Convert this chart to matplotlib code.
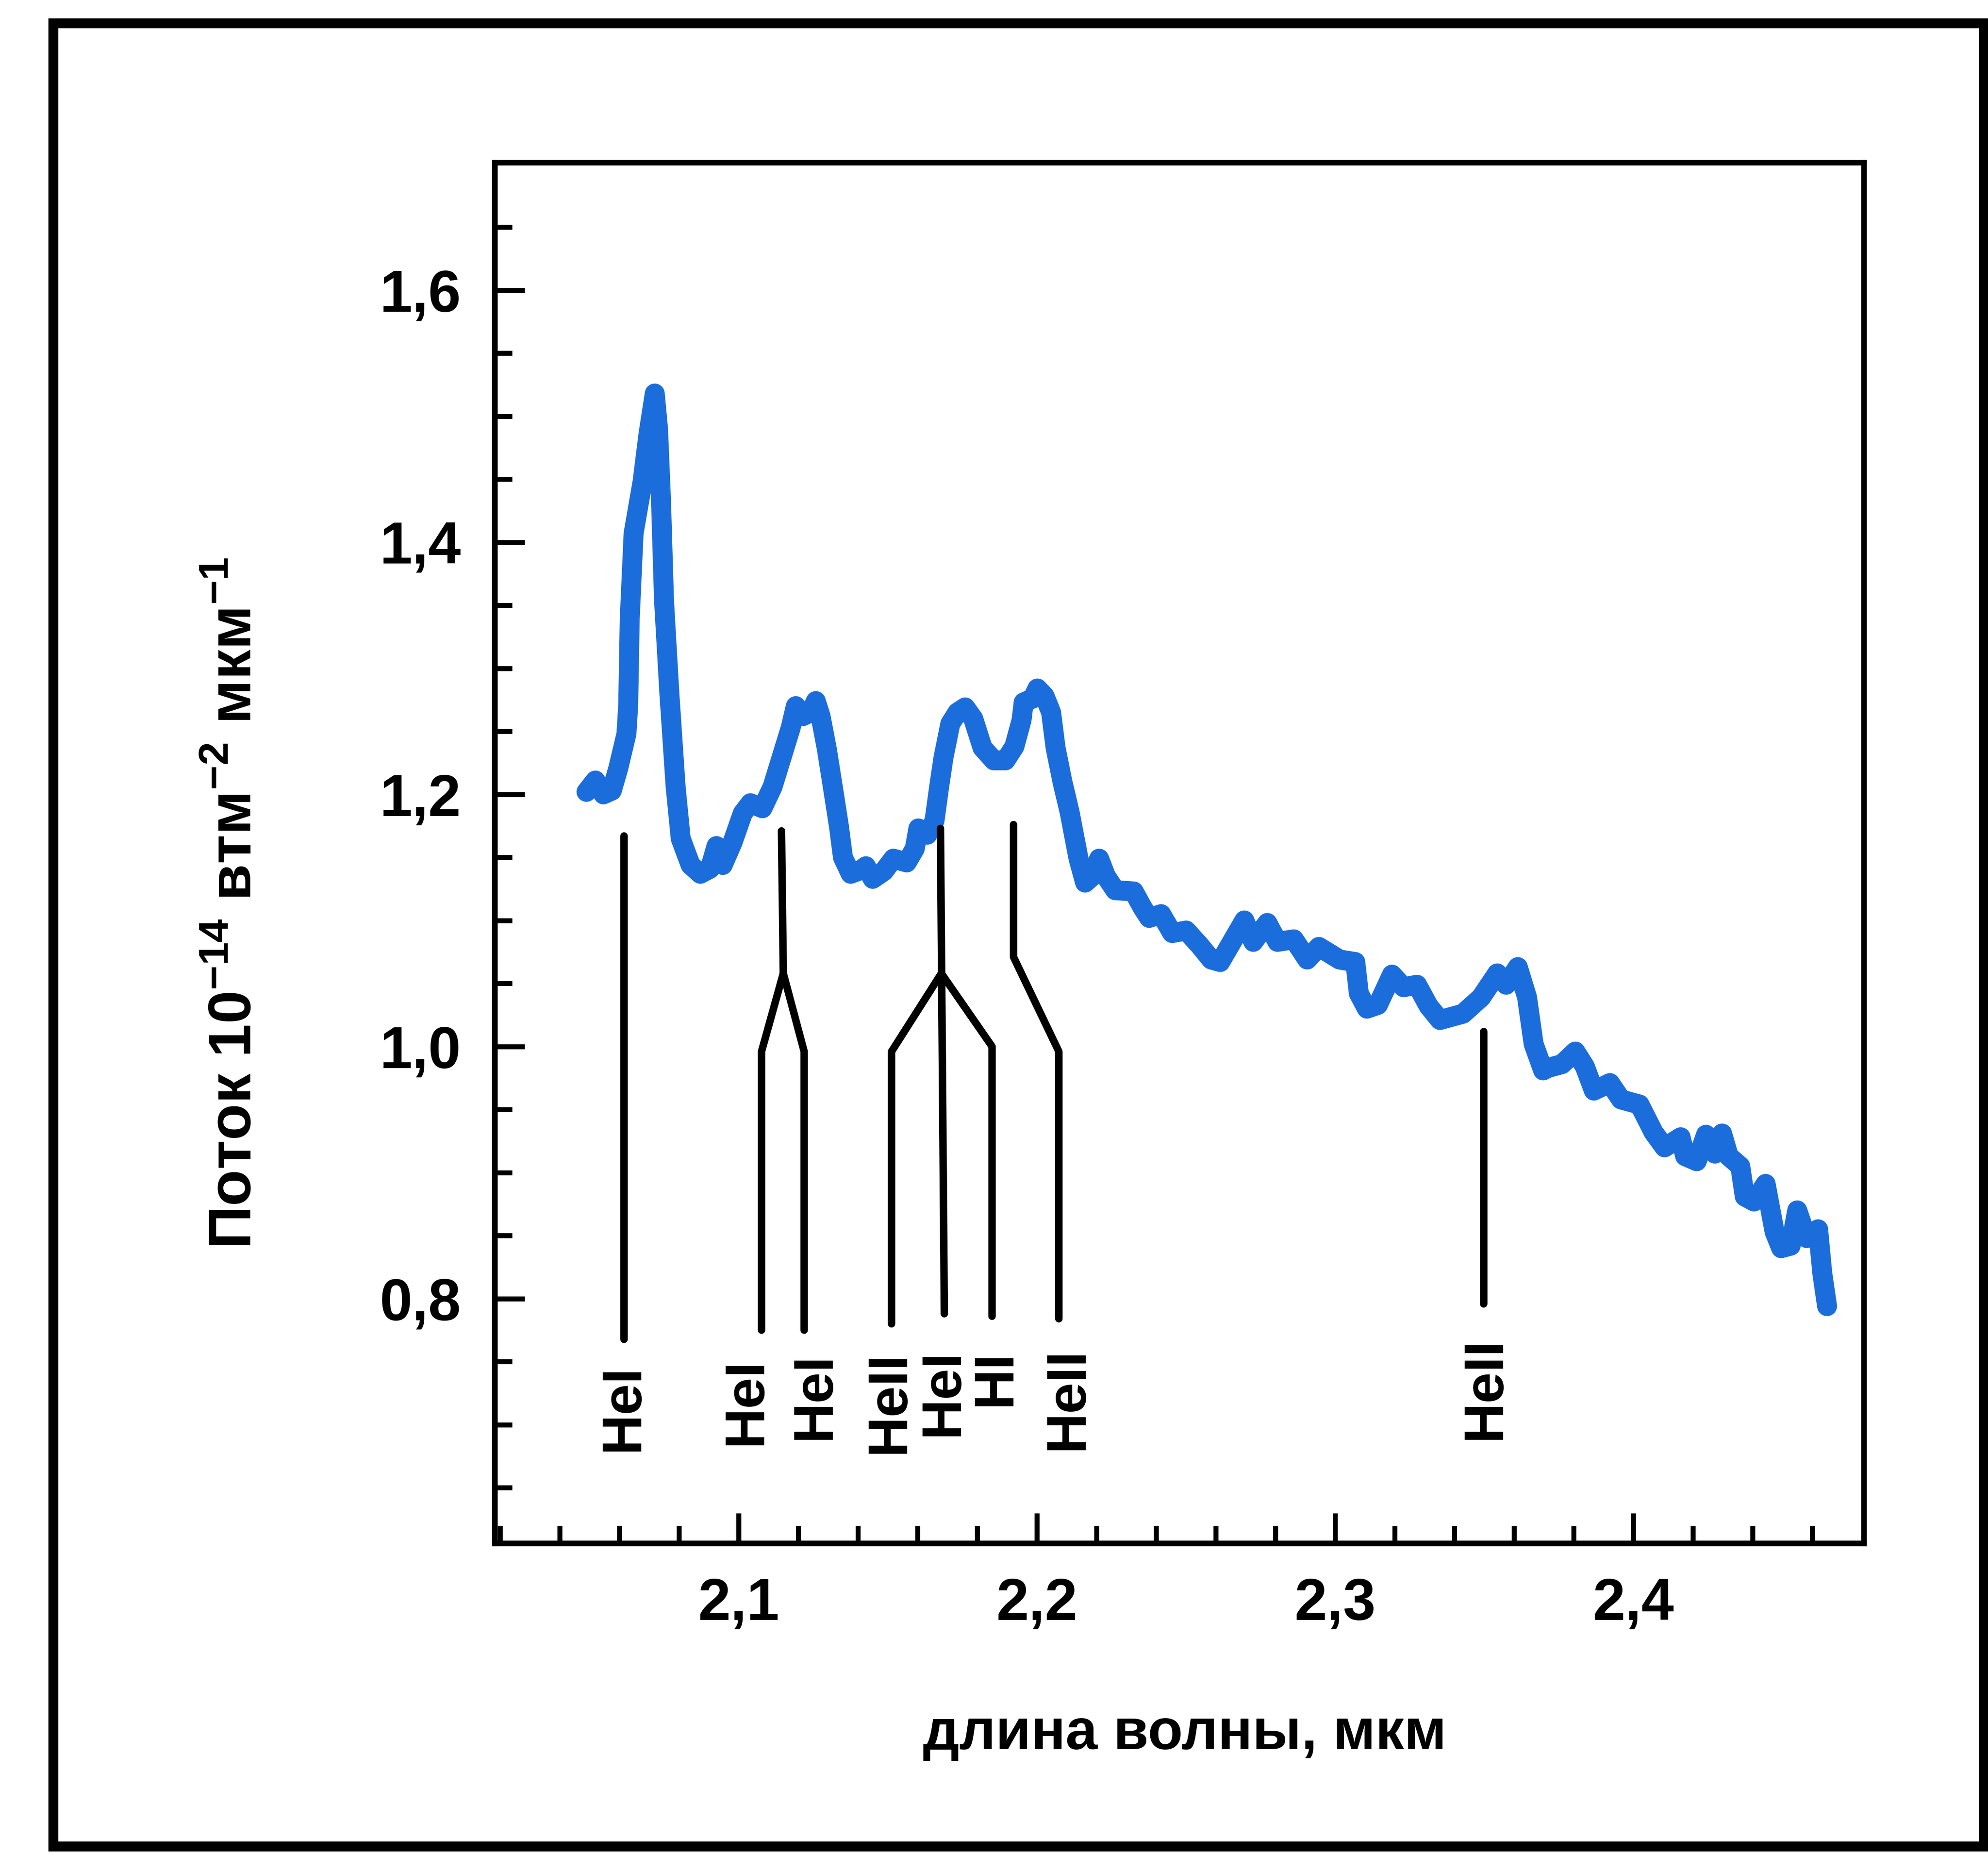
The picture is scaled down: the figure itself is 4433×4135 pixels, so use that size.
import matplotlib
matplotlib.use("Agg")
import matplotlib.pyplot as plt
from matplotlib.ticker import FixedLocator, FuncFormatter
from matplotlib.patches import Rectangle

plt.rcParams['font.family'] = ['Liberation Sans', 'DejaVu Sans']
plt.rcParams['font.weight'] = 'bold'
plt.rcParams['mathtext.fontset'] = 'custom'
plt.rcParams['mathtext.rm'] = 'Liberation Sans:bold'
plt.rcParams['mathtext.default'] = 'rm'

# Спектр
wavelength = [2.049, 2.052, 2.0547, 2.0575, 2.0597, 2.0624, 2.063, 2.0635, 2.0648, 2.0678,
              2.0698, 2.0719, 2.0730, 2.0740, 2.075, 2.0768, 2.0789, 2.0806, 2.0839, 2.0872,
              2.0904, 2.0926, 2.0947, 2.098, 2.1014, 2.104, 2.108, 2.1114, 2.1149, 2.1175,
              2.1192, 2.1215, 2.1242, 2.1259, 2.1275, 2.1296, 2.1316, 2.1337, 2.135, 2.1376,
              2.141, 2.1427, 2.145, 2.1487, 2.1519, 2.1564, 2.1591, 2.1603, 2.1633, 2.1657,
              2.1672, 2.1687, 2.171, 2.1734, 2.176, 2.1787, 2.1818, 2.1856, 2.1895, 2.1925,
              2.1949, 2.1956, 2.1986, 2.2002, 2.2026, 2.2048, 2.2063, 2.2086, 2.211, 2.214,
              2.2162, 2.2186, 2.2209, 2.2232, 2.2263, 2.2325, 2.2355, 2.2377, 2.2417, 2.2454,
              2.2501, 2.2547, 2.2585, 2.2615, 2.2647, 2.2696, 2.2726, 2.2773, 2.2807, 2.2862,
              2.2907, 2.2946, 2.3015, 2.3068, 2.308, 2.3107, 2.3144, 2.3191, 2.323, 2.3275,
              2.3314, 2.3352, 2.3429, 2.349, 2.3544, 2.3574, 2.3613, 2.3644, 2.3666, 2.3698,
              2.3714, 2.3761, 2.3806, 2.3838, 2.3868, 2.3922, 2.3959, 2.4021, 2.4068, 2.4105,
              2.4159, 2.4174, 2.4213, 2.4244, 2.4274, 2.4298, 2.432, 2.4359, 2.4374, 2.4405,
              2.4444, 2.4474, 2.4496, 2.4528, 2.455, 2.4582, 2.462, 2.4634, 2.465]
flux = [1.202, 1.211, 1.200, 1.203, 1.221, 1.248, 1.271, 1.339, 1.407, 1.448,
        1.486, 1.518, 1.490, 1.433, 1.354, 1.280, 1.206, 1.165, 1.144, 1.137,
        1.141, 1.159, 1.144, 1.162, 1.185, 1.193, 1.189, 1.206, 1.233, 1.253,
        1.270, 1.262, 1.265, 1.274, 1.262, 1.236, 1.206, 1.174, 1.150, 1.137,
        1.140, 1.143, 1.133, 1.139, 1.149, 1.146, 1.157, 1.173, 1.168, 1.179,
        1.205, 1.229, 1.256, 1.265, 1.269, 1.260, 1.237, 1.227, 1.227, 1.238,
        1.259, 1.273, 1.276, 1.284, 1.278, 1.265, 1.237, 1.210, 1.186, 1.149,
        1.130, 1.135, 1.149, 1.135, 1.124, 1.123, 1.110, 1.102, 1.105, 1.090,
        1.092, 1.080, 1.069, 1.067, 1.080, 1.100, 1.083, 1.098, 1.083, 1.085,
        1.069, 1.079, 1.069, 1.067, 1.042, 1.030, 1.033, 1.057, 1.047, 1.049,
        1.032, 1.021, 1.026, 1.039, 1.058, 1.049, 1.063, 1.039, 1.002, 0.981,
        0.983, 0.986, 0.996, 0.984, 0.965, 0.971, 0.958, 0.954, 0.932, 0.920,
        0.928, 0.913, 0.909, 0.930, 0.915, 0.931, 0.913, 0.905, 0.881, 0.877,
        0.891, 0.853, 0.840, 0.842, 0.870, 0.848, 0.855, 0.820, 0.794]

# Отождествления линий: ломаные-указатели
marker_x = [
    [2.0615, 2.0615],
    [2.1144, 2.1150, 2.1077, 2.1077],
    [2.1150, 2.1220, 2.1220],
    [2.1677, 2.1690],
    [2.1680, 2.1513, 2.1513],
    [2.1680, 2.1850, 2.1850],
    [2.1922, 2.1922, 2.2074, 2.2074],
    [2.3498, 2.3498],
]
marker_y = [
    [1.167, 0.768],
    [1.171, 1.058, 0.996, 0.775],
    [1.058, 0.996, 0.775],
    [1.173, 0.788],
    [1.058, 0.996, 0.780],
    [1.058, 1.000, 0.786],
    [1.176, 1.071, 0.996, 0.784],
    [1.012, 0.796],
]
line_names = ['HeI', 'HeI', 'HeI', 'HeII', 'HeI', 'HI', 'HeII', 'HeII']
name_x = [2.0615, 2.1027, 2.1257, 2.1507, 2.1687, 2.1862, 2.2105, 2.3505]
name_y = [0.679, 0.684, 0.688, 0.677, 0.691, 0.715, 0.680, 0.688]

y_major = [0.8, 1.0, 1.2, 1.4, 1.6]
y_minor = [0.65, 0.7, 0.75, 0.85, 0.9, 0.95, 1.05, 1.1, 1.15, 1.25, 1.3, 1.35,
           1.45, 1.5, 1.55, 1.65]
x_major = [2.1, 2.2, 2.3, 2.4]
x_minor = [2.02, 2.04, 2.06, 2.08, 2.12, 2.14, 2.16, 2.18, 2.22, 2.24, 2.26, 2.28,
           2.32, 2.34, 2.36, 2.38, 2.42, 2.44, 2.46]

fig = plt.figure(figsize=(22.165, 20.675), dpi=200)
ax = fig.add_axes([0.2488, 0.1681, 0.6887, 0.7444])

ax.plot(wavelength, flux, color='#1c6ddc', lw=16,
        solid_joinstyle='round', solid_capstyle='round')

for xs, ys in zip(marker_x, marker_y):
    ax.plot(xs, ys, color='black', lw=6, solid_capstyle='round', solid_joinstyle='round')
for name, x, y in zip(line_names, name_x, name_y):
    ax.text(x, y, name, rotation=90, ha='center', va='bottom', fontsize=45)

ax.set_xlim(2.0182, 2.4773)
ax.set_ylim(0.606, 1.7014)

ax.xaxis.set_major_locator(FixedLocator(x_major))
ax.xaxis.set_minor_locator(FixedLocator(x_minor))
ax.yaxis.set_major_locator(FixedLocator(y_major))
ax.yaxis.set_minor_locator(FixedLocator(y_minor))
comma = FuncFormatter(lambda v, p: f"{v:.1f}".replace('.', ','))
ax.xaxis.set_major_formatter(comma)
ax.yaxis.set_major_formatter(comma)

ax.tick_params(which='both', direction='in', top=False, right=False, width=4, labelsize=47)
ax.tick_params(axis='x', which='both', pad=27)
ax.tick_params(axis='y', which='both', pad=27)
ax.tick_params(which='major', length=24)
ax.tick_params(which='minor', length=14)
for s in ax.spines.values():
    s.set_linewidth(4.5)

fig.text(0.1185, 0.5132, 'Поток 10$^{-14}$ втм$^{-2}$ мкм$^{-1}$', rotation=90,
         ha='center', va='center', fontsize=48)
fig.text(0.596, 0.065, 'длина волны, мкм', ha='center', va='center', fontsize=46)

# рамка страницы
fig.add_artist(Rectangle((0.0268, 0.0046), 0.9712, 0.9828, transform=fig.transFigure,
                         fill=False, lw=8, ec='black'))

fig.savefig('out.png', dpi=200, facecolor='white')
